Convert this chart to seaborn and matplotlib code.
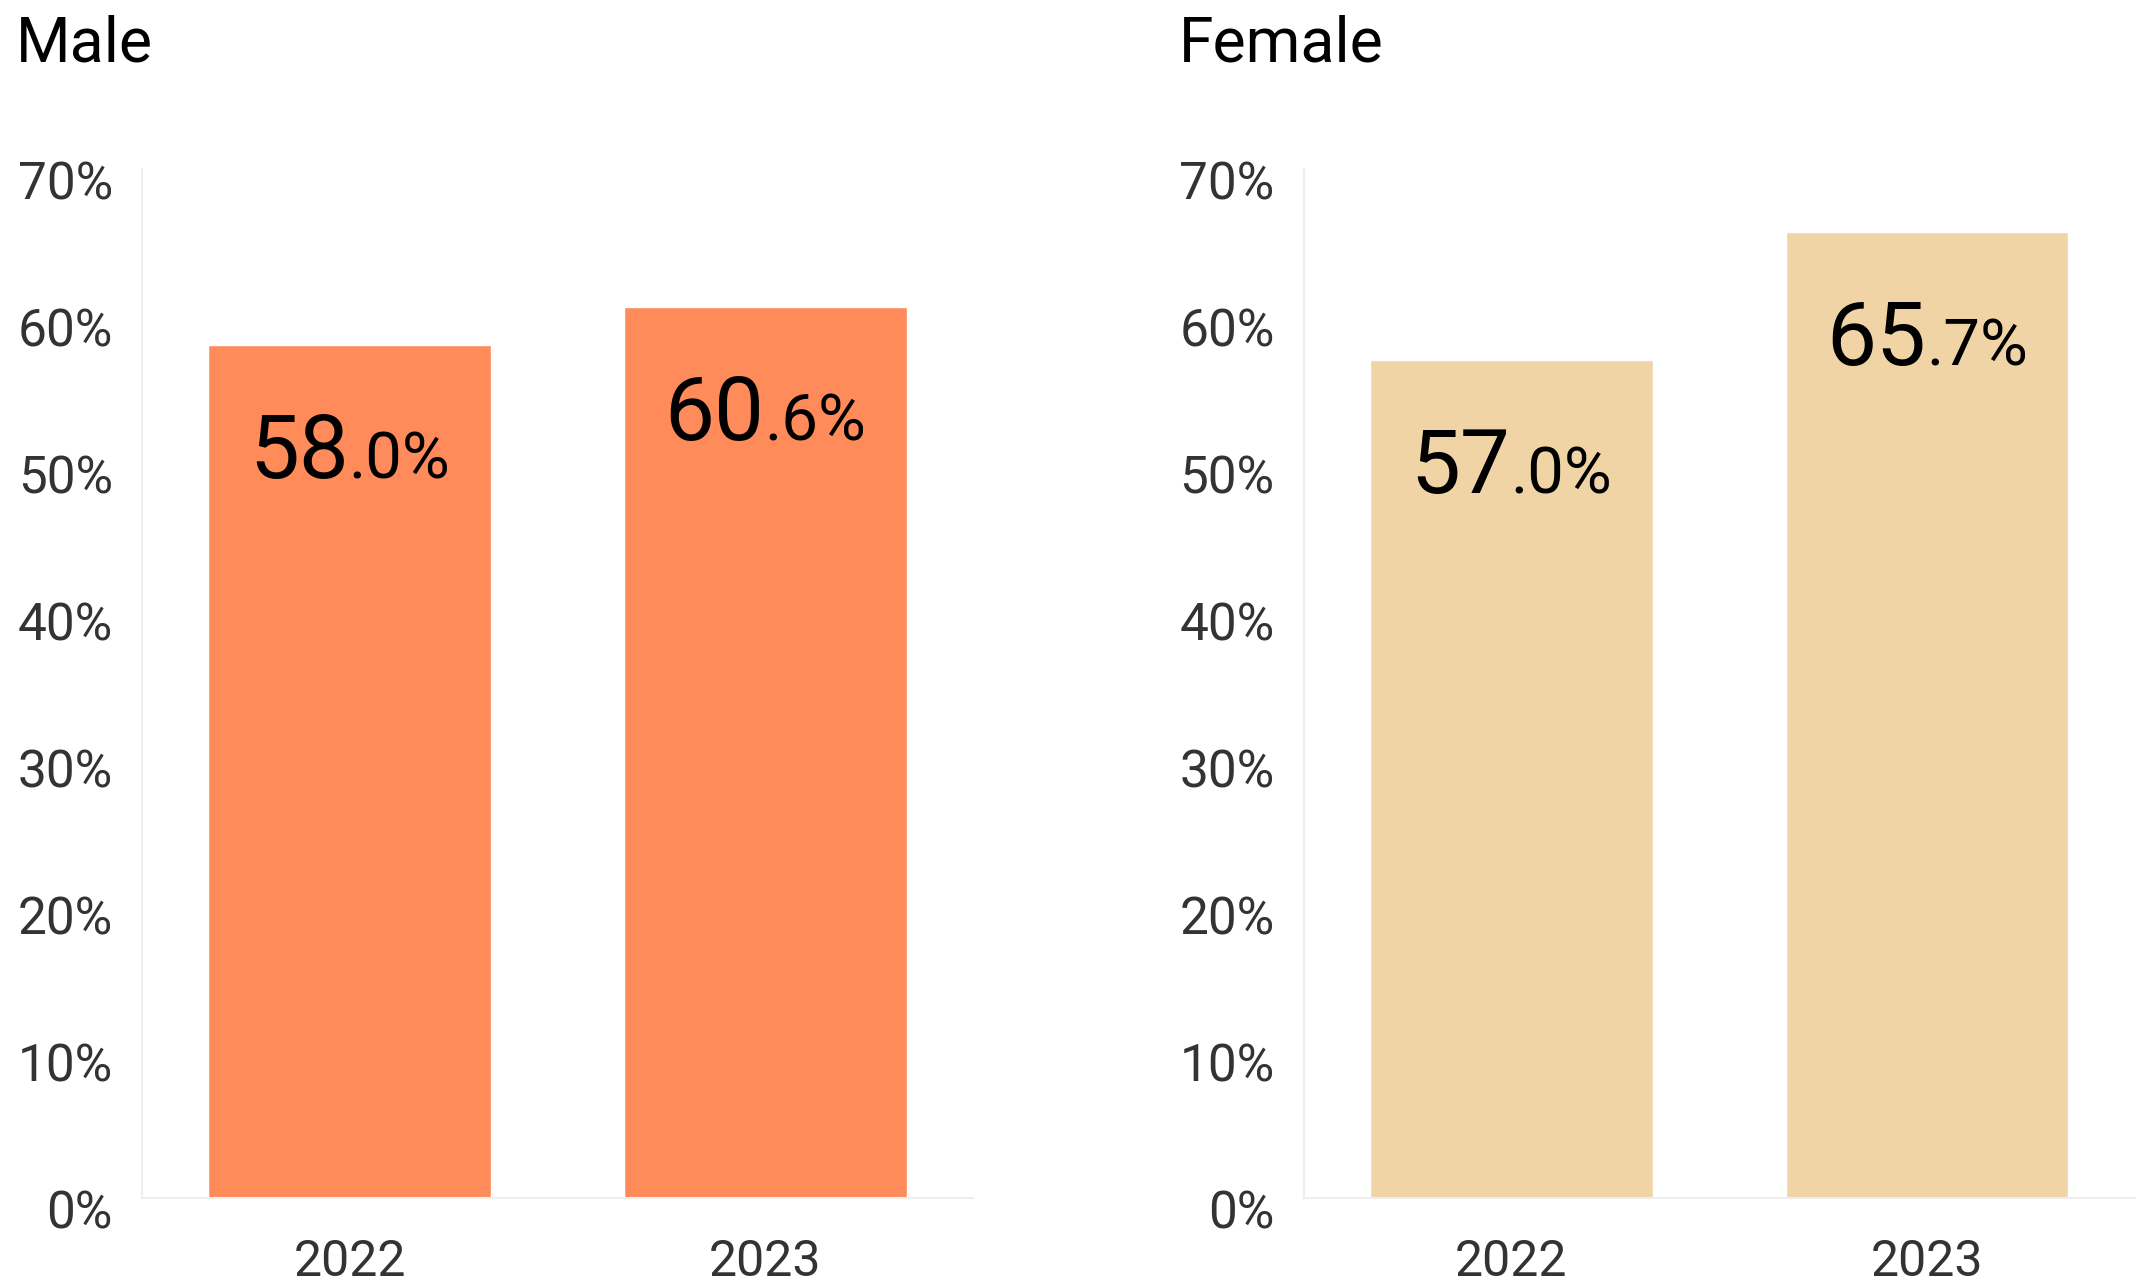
import pandas as pd
import seaborn as sns
import matplotlib.pyplot as plt
from matplotlib.transforms import offset_copy

# Data
years = ['2022', '2023']
male = [58.0, 60.6]
female = [57.0, 65.7]
yticks = [0, 10, 20, 30, 40, 50, 60, 70]
panel_titles = ['Male', 'Female']
panel_colors = ['#FF8B5A', '#F0D4A6']

sns.set_theme(style='white')
plt.rcParams['font.family'] = ['Roboto', 'DejaVu Sans']

fig = plt.figure(figsize=(21.37, 12.83), dpi=100)

ax_left = fig.add_axes([0.0664, 0.0663, 0.389, 0.802])
ax_right = fig.add_axes([0.610, 0.0663, 0.389, 0.802])

labels = []
for ax, vals, title, color, tx in zip([ax_left, ax_right], [male, female],
                                      panel_titles, panel_colors,
                                      [16 / 2137, 1179 / 2137]):
    df = pd.DataFrame({'Year': years, 'Value': vals})
    sns.barplot(data=df, x='Year', y='Value', color=color, saturation=1,
                width=0.68, ax=ax)
    ax.set_xlim(-0.5, 1.5)
    ax.set_ylim(0, 70)
    ax.set_yticks(yticks)
    ax.set_yticklabels([])
    ax.set_xlabel('')
    ax.set_ylabel('')
    for s in ['top', 'right']:
        ax.spines[s].set_visible(False)
    for s in ['left', 'bottom']:
        ax.spines[s].set_color('#EEEEEE')
        ax.spines[s].set_linewidth(1.5)
    ax.tick_params(axis='y', length=0)
    ax.tick_params(axis='x', length=0, pad=29, labelsize=36, colors='#333333')

    # y tick labels, drawn a little below their tick like the reference
    ytr = offset_copy(ax.get_yaxis_transform(), fig, x=-29, y=-11,
                      units='dots')
    for v in yticks:
        ax.text(0, v, f'{v}%', transform=ytr, ha='right', va='center_baseline',
                fontsize=37, color='#333333')

    fig.text(tx, 1 - 61 / 1283, title, fontsize=45, fontweight='normal',
             color='black', va='baseline', ha='left')

    # bar labels: big integer part, smaller decimal part
    for i, v in enumerate(vals):
        s = f'{v:.1f}%'
        big, small = s.split('.')
        t1 = ax.text(i, v, big, fontsize=64, ha='left', va='baseline',
                     color='black')
        t2 = ax.text(i, v, '.' + small, fontsize=47, ha='left',
                     va='baseline', color='black')
        labels.append((ax, t1, t2))

fig.canvas.draw()
r = fig.canvas.get_renderer()
for ax, t1, t2 in labels:
    w1 = t1.get_window_extent(r).width
    w2 = t2.get_window_extent(r).width
    total = w1 + w2
    t1.set_transform(offset_copy(ax.transData, fig, x=-total / 2, y=-133,
                                 units='dots'))
    t2.set_transform(offset_copy(ax.transData, fig, x=-total / 2 + w1,
                                 y=-133, units='dots'))

fig.savefig('out.png', dpi=100, facecolor='white')
